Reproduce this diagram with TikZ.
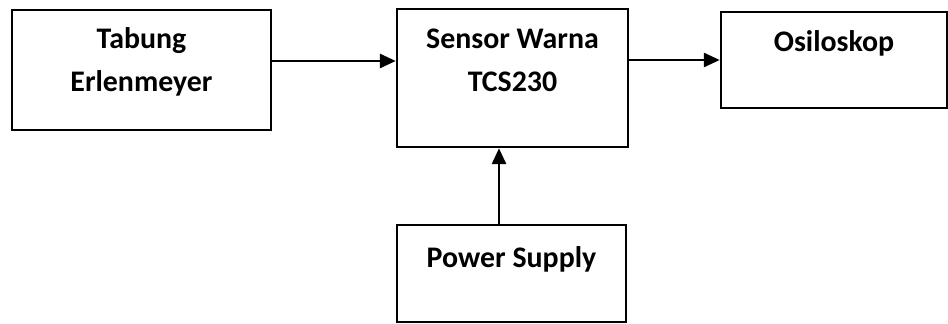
\documentclass[tikz,border=0pt]{standalone}
\usepackage{fontspec}
\setmainfont{Carlito}
\usetikzlibrary{arrows.meta,positioning}

\begin{document}
\begin{tikzpicture}[x=0.02cm, y=-0.02cm, >={Triangle[length=9pt,width=8pt]},
  blok/.style={draw, line width=1.5pt, inner sep=0pt},
  teks/.style={inner sep=0pt, align=center, font=\fontsize{17}{24.4}\selectfont\bfseries},
  panah/.style={->, line width=1.4pt}]
\useasboundingbox (0,0) rectangle (948,324);
% blocks
\node[blok, minimum width=5.18cm, minimum height=2.4cm] (tabung) at (141.5,70) {};
\node[blok, minimum width=4.62cm, minimum height=2.76cm] (sensor) at (512.5,78) {};
\node[blok, minimum width=4.52cm, minimum height=1.92cm] (osilo) at (834,60) {};
\node[blok, minimum width=4.58cm, minimum height=1.94cm] (power) at (511.5,273.5) {};
% labels
\node[teks, below=3.8mm of tabung.north] (tTabung) {Tabung\\Erlenmeyer};
\node[teks, below=4.2mm of sensor.north] (tSensor) {Sensor Warna\\TCS230};
\node[teks, below=4.0mm of osilo.north] (tOsilo) {Osiloskop};
\node[teks, below=4.6mm of power.north] (tPower) {Power Supply};
% connectors
\coordinate (a1) at ([yshift=1.8mm]tabung.east);
\coordinate (a3) at ([xshift=-2.5mm]power.north);
\draw[panah] (a1) -- (a1 -| sensor.west);
\draw[panah] (osilo.west -| sensor.east) -- (osilo.west);
\draw[panah] (a3) -- (a3 |- sensor.south);
\end{tikzpicture}
\end{document}
